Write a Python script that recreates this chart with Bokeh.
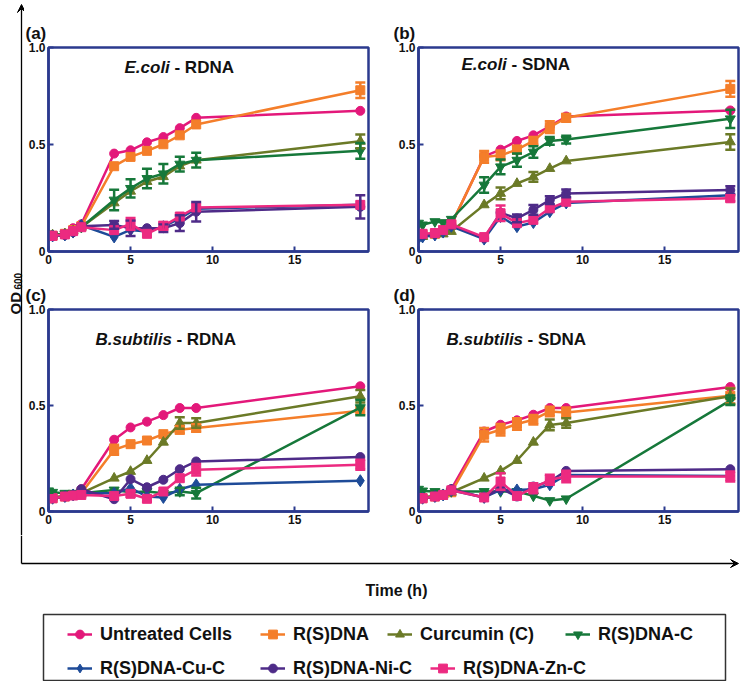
import math
from bokeh.plotting import figure
from bokeh.layouts import column, row
from bokeh.models import (Range1d, FixedTicker, ColumnDataSource, Whisker, TeeHead,
                          Arrow, VeeHead, Legend, LegendItem)
from bokeh.embed import file_html
from bokeh.resources import INLINE
from bokeh.core.properties import value

# ---------------- data ----------------
TIME_H = [0, 0.25, 1, 1.5, 2, 4, 5, 6, 7, 8, 9, 19]
SERIES = ["Untreated Cells", "R(S)DNA", "Curcumin (C)", "R(S)DNA-C",
          "R(S)DNA-Cu-C", "R(S)DNA-Ni-C", "R(S)DNA-Zn-C"]
X_TICKS = [0, 5, 10, 15]
Y_TICKS = [-0.05, 0.5, 1.0]
Y_TICK_LABELS = ["0", "0.5", "1.0"]
PANEL_LABELS = ["(a)", "(b)", "(c)", "(d)"]
ORGANISMS = ["E.coli", "E.coli", "B.subtilis", "B.subtilis"]
DNA_TYPES = ["RDNA", "SDNA", "RDNA", "SDNA"]
X_LABEL = "Time (h)"

OD_A = {
    "Untreated Cells": [0.031, 0.031, 0.041, 0.07, 0.09, 0.454, 0.471, 0.512, 0.539, 0.585, 0.638, 0.674],
    "R(S)DNA":         [0.031, 0.031, 0.041, 0.06, 0.08, 0.389, 0.437, 0.468, 0.502, 0.548, 0.604, 0.78],
    "Curcumin (C)":    [0.035, 0.035, 0.041, 0.055, 0.075, 0.20, 0.26, 0.31, 0.335, 0.39, 0.42, 0.517],
    "R(S)DNA-C":       [0.04, 0.035, 0.04, 0.05, 0.075, 0.215, 0.275, 0.326, 0.35, 0.40, 0.42, 0.468],
    "R(S)DNA-Cu-C":    [0.03, 0.03, 0.035, 0.05, 0.085, 0.025, 0.061, 0.053, 0.078, 0.12, 0.17, 0.19],
    "R(S)DNA-Ni-C":    [0.03, 0.03, 0.035, 0.05, 0.08, 0.087, 0.07, 0.07, 0.07, 0.096, 0.155, 0.18],
    "R(S)DNA-Zn-C":    [0.031, 0.031, 0.038, 0.055, 0.075, 0.06, 0.092, 0.041, 0.082, 0.13, 0.177, 0.19],
}
ERR_A = {
    "R(S)DNA":      [0, 0, 0, 0, 0, 0, 0, 0, 0, 0, 0, 0.04],
    "Curcumin (C)": [0, 0, 0, 0, 0, 0, 0, 0, 0, 0, 0, 0.035],
    "R(S)DNA-C":    [0, 0, 0, 0, 0, 0.053, 0.047, 0.05, 0.05, 0.038, 0.038, 0.04],
    "R(S)DNA-Ni-C": [0, 0, 0, 0, 0, 0.02, 0.04, 0, 0.02, 0.04, 0.05, 0.06],
    "R(S)DNA-Zn-C": [0, 0, 0, 0, 0, 0, 0.03, 0, 0.02, 0, 0, 0],
}

OD_B = {
    "Untreated Cells": [0.036, 0.036, 0.041, 0.06, 0.087, 0.44, 0.474, 0.519, 0.548, 0.594, 0.645, 0.676],
    "R(S)DNA":         [0.036, 0.036, 0.041, 0.06, 0.09, 0.437, 0.445, 0.474, 0.519, 0.59, 0.638, 0.787],
    "Curcumin (C)":    [0.027, 0.027, 0.036, 0.04, 0.053, 0.19, 0.249, 0.30, 0.334, 0.377, 0.416, 0.514],
    "R(S)DNA-C":       [0.096, 0.087, 0.104, 0.099, 0.116, 0.292, 0.386, 0.42, 0.462, 0.519, 0.526, 0.633],
    "R(S)DNA-Cu-C":    [0.019, 0.025, 0.035, 0.05, 0.08, 0.014, 0.13, 0.078, 0.099, 0.155, 0.20, 0.24],
    "R(S)DNA-Ni-C":    [0.036, 0.036, 0.041, 0.06, 0.087, 0.019, 0.15, 0.12, 0.164, 0.215, 0.249, 0.266],
    "R(S)DNA-Zn-C":    [0.041, 0.041, 0.045, 0.06, 0.09, 0.024, 0.147, 0.096, 0.113, 0.172, 0.206, 0.224],
}
ERR_B = {
    "R(S)DNA":      [0, 0, 0, 0, 0, 0.03, 0.025, 0.02, 0.02, 0.03, 0.02, 0.04],
    "Curcumin (C)": [0, 0, 0, 0, 0, 0, 0.03, 0, 0.025, 0, 0, 0.04],
    "R(S)DNA-C":    [0, 0, 0, 0, 0, 0.04, 0.038, 0.034, 0.03, 0.02, 0.02, 0.047],
    "R(S)DNA-Ni-C": [0, 0, 0, 0, 0, 0, 0, 0.02, 0.025, 0.02, 0.02, 0.02],
    "R(S)DNA-Zn-C": [0, 0, 0, 0, 0, 0, 0.04, 0, 0, 0, 0, 0.015],
}

OD_C = {
    "Untreated Cells": [0.019, 0.019, 0.028, 0.036, 0.066, 0.323, 0.387, 0.417, 0.451, 0.488, 0.488, 0.601],
    "R(S)DNA":         [0.019, 0.019, 0.028, 0.036, 0.045, 0.271, 0.30, 0.319, 0.352, 0.375, 0.384, 0.474],
    "Curcumin (C)":    [0.025, 0.025, 0.03, 0.036, 0.045, 0.123, 0.158, 0.215, 0.31, 0.41, 0.41, 0.549],
    "R(S)DNA-C":       [0.057, 0.05, 0.045, 0.045, 0.045, 0.062, 0.05, 0.054, 0.045, 0.054, 0.045, 0.49],
    "R(S)DNA-Cu-C":    [0.019, 0.019, 0.028, 0.036, 0.045, 0.045, 0.071, 0.028, 0.023, 0.066, 0.089, 0.11],
    "R(S)DNA-Ni-C":    [0.019, 0.019, 0.028, 0.036, 0.066, 0.014, 0.118, 0.076, 0.115, 0.17, 0.21, 0.233],
    "R(S)DNA-Zn-C":    [0.019, 0.019, 0.028, 0.033, 0.036, 0.031, 0.042, 0.016, 0.054, 0.123, 0.167, 0.193],
}
ERR_C = {
    "R(S)DNA":      [0, 0, 0, 0, 0, 0.026, 0, 0, 0, 0.02, 0.02, 0],
    "Curcumin (C)": [0, 0, 0, 0, 0, 0, 0, 0, 0, 0.03, 0.025, 0.033],
    "R(S)DNA-C":    [0.01, 0, 0, 0, 0, 0, 0, 0, 0, 0.02, 0.028, 0.04],
    "R(S)DNA-Zn-C": [0.015, 0, 0, 0, 0, 0, 0.015, 0.015, 0, 0, 0.03, 0.026],
}

OD_D = {
    "Untreated Cells": [0.019, 0.019, 0.028, 0.036, 0.066, 0.366, 0.401, 0.424, 0.453, 0.488, 0.488, 0.597],
    "R(S)DNA":         [0.019, 0.019, 0.028, 0.036, 0.05, 0.349, 0.375, 0.405, 0.427, 0.47, 0.465, 0.552],
    "Curcumin (C)":    [0.025, 0.025, 0.03, 0.036, 0.05, 0.123, 0.161, 0.215, 0.31, 0.40, 0.41, 0.549],
    "R(S)DNA-C":       [0.066, 0.057, 0.054, 0.045, 0.054, 0.054, 0.054, 0.054, 0.031, 0.007, 0.016, 0.528],
    "R(S)DNA-Cu-C":    [0.019, 0.019, 0.028, 0.036, 0.06, 0.023, 0.062, 0.062, 0.066, 0.089, 0.14, 0.135],
    "R(S)DNA-Ni-C":    [0.019, 0.019, 0.028, 0.036, 0.066, 0.023, 0.071, 0.028, 0.08, 0.106, 0.161, 0.17],
    "R(S)DNA-Zn-C":    [0.019, 0.019, 0.028, 0.036, 0.06, 0.023, 0.106, 0.031, 0.071, 0.115, 0.132, 0.132],
}
ERR_D = {
    "R(S)DNA":      [0, 0, 0, 0, 0, 0.035, 0.03, 0.03, 0.025, 0.025, 0.025, 0.04],
    "Curcumin (C)": [0, 0, 0, 0, 0, 0, 0, 0, 0, 0.028, 0.025, 0.04],
    "R(S)DNA-C":    [0, 0, 0, 0, 0, 0, 0, 0, 0, 0, 0, 0.025],
    "R(S)DNA-Zn-C": [0.02, 0, 0, 0, 0, 0, 0.043, 0, 0.026, 0.026, 0.03, 0.026],
}

# ---------------- styles ----------------
FONT = "Liberation Sans"
NAVY = "#2B3A8E"
INK = "#111111"
COLORS = {
    "Untreated Cells": "#E3187A",
    "R(S)DNA": "#F47E2A",
    "Curcumin (C)": "#6B7A27",
    "R(S)DNA-C": "#16783A",
    "R(S)DNA-Cu-C": "#1E4B98",
    "R(S)DNA-Ni-C": "#4E2B88",
    "R(S)DNA-Zn-C": "#EC2A80",
}
MARKERS = {
    "Untreated Cells": ("circle", 9),
    "R(S)DNA": ("square", 9),
    "Curcumin (C)": ("triangle", 10),
    "R(S)DNA-C": ("inverted_triangle", 10),
    "R(S)DNA-Cu-C": ("diamond", 12),
    "R(S)DNA-Ni-C": ("circle", 9),
    "R(S)DNA-Zn-C": ("square", 9),
}


def make_panel(i, od, err, width, height, bl, br, bt, bb, title_offset, lab_x, lab_y, lab_off):
    p = figure(width=width, height=height, x_range=Range1d(0, 19.5), y_range=Range1d(-0.05, 1.0),
               output_backend="svg", toolbar_location=None, title=PANEL_LABELS[i],
               min_border_left=bl, min_border_right=br, min_border_top=bt, min_border_bottom=bb)
    p.title.text_font = FONT
    p.title.text_font_size = "17px"
    p.title.text_font_style = "bold"
    p.title.text_color = INK
    p.title.align = "left"
    p.title.offset = title_offset
    p.title.standoff = 9
    p.grid.visible = False
    p.outline_line_color = NAVY
    p.outline_line_width = 2.5
    p.outline_line_alpha = 1
    p.xaxis.ticker = FixedTicker(ticks=X_TICKS)
    p.yaxis.ticker = FixedTicker(ticks=Y_TICKS)
    p.yaxis.major_label_overrides = dict(zip(Y_TICKS, Y_TICK_LABELS))
    for ax in (p.xaxis[0], p.yaxis[0]):
        ax.axis_line_color = NAVY
        ax.axis_line_width = 2.5
        ax.major_tick_line_color = NAVY
        ax.major_tick_line_width = 2
        ax.major_tick_in = 5
        ax.major_tick_out = 0
        ax.minor_tick_line_color = None
        ax.major_label_text_font = FONT
        ax.major_label_text_font_style = "bold"
        ax.major_label_text_font_size = "12px"
        ax.major_label_text_color = INK
        ax.major_label_standoff = 3

    for s in SERIES:
        c = COLORS[s]
        m, sz = MARKERS[s]
        src = ColumnDataSource(dict(t=TIME_H, od=od[s]))
        p.line("t", "od", source=src, line_color=c, line_width=2.5, line_join="round")
        if s in err:
            e = err[s]
            keep = [k for k, v in enumerate(e) if v > 0]
            wsrc = ColumnDataSource(dict(
                base=[TIME_H[k] for k in keep],
                upper=[od[s][k] + e[k] for k in keep],
                lower=[od[s][k] - e[k] for k in keep]))
            p.add_layout(Whisker(source=wsrc, base="base", upper="upper", lower="lower",
                                 line_color=c, line_width=2.5, level="glyph",
                                 upper_head=TeeHead(size=10, line_color=c, line_width=2.5),
                                 lower_head=TeeHead(size=10, line_color=c, line_width=2.5)))
        p.scatter("t", "od", source=src, marker=m, size=sz, fill_color=c, line_color=c)

    p.text(x=[lab_x], y=[lab_y], text=[ORGANISMS[i]], text_font=value(FONT),
           text_font_style="bold italic", text_font_size="17px",
           text_baseline="middle", text_align="left", text_color=INK)
    p.text(x=[lab_x], y=[lab_y], text=["- " + DNA_TYPES[i]], x_offset=lab_off, text_font=value(FONT),
           text_font_style="bold", text_font_size="17px",
           text_baseline="middle", text_align="left", text_color=INK)
    return p


fa = make_panel(0, OD_A, ERR_A, 359, 276, 24, 15, 47, 25, -23, 4.63, 0.897, 50)
fb = make_panel(1, OD_B, ERR_B, 359, 276, 35, 4, 47, 25, -25, 2.62, 0.912, 50)
fc = make_panel(2, OD_C, ERR_C, 359, 259, 24, 15, 33, 24, -23, 2.86, 0.844, 81)
fd = make_panel(3, OD_D, ERR_D, 359, 259, 35, 4, 33, 24, -25, 1.71, 0.844, 81)


def deco_fig(w, h):
    f = figure(width=w, height=h, x_range=Range1d(0, w), y_range=Range1d(0, h),
               x_axis_type=None, y_axis_type=None, min_border=0,
               toolbar_location=None, output_backend="svg")
    f.grid.visible = False
    f.outline_line_color = None
    return f


# left strip: vertical arrow + OD600
left = deco_fig(24, 535)
left.add_layout(Arrow(x_start=21, y_start=0, x_end=21, y_end=531, line_width=1.3, line_color="black",
                      end=VeeHead(size=8, fill_color="black", line_color="black")))
left.text(x=[15], y=[221], text=["OD"], angle=math.pi / 2, text_font=value(FONT),
          text_font_style="bold", text_font_size="15px", text_align="left",
          text_baseline="alphabetic", text_color=INK)
left.text(x=[17.5], y=[246], text=["600"], angle=math.pi / 2, text_font=value(FONT),
          text_font_style="bold", text_font_size="10px", text_align="left",
          text_baseline="alphabetic", text_color=INK)

# bottom: horizontal arrow, x label and legend box
bottom = deco_fig(742, 146)
bottom.segment(x0=[21], y0=[146], x1=[21], y1=[118], line_width=1.3, line_color="black")
bottom.add_layout(Arrow(x_start=21, y_start=118, x_end=738, y_end=118, line_width=1.3, line_color="black",
                        end=VeeHead(size=8, fill_color="black", line_color="black")))
bottom.text(x=[396], y=[91], text=[X_LABEL], text_font=value(FONT), text_font_style="bold",
            text_font_size="16px", text_align="center", text_baseline="middle", text_color=INK)
bottom.quad(left=[43], right=[725], bottom=[1], top=[67], fill_color=None,
            line_color="#333333", line_width=1.5)

OFFSCREEN = [-500, -490]
LEG_POS = [(67, 634), (260, 634), (387, 634), (565, 634), (67, 668), (260, 668), (430, 668)]
for s, (gx, cy) in zip(SERIES, LEG_POS):
    c = COLORS[s]
    m, sz = MARKERS[s]
    lr = bottom.line(OFFSCREEN, OFFSCREEN, line_color=c, line_width=2.5)
    sr = bottom.scatter(OFFSCREEN[:1], OFFSCREEN[:1], marker=m, size=sz, fill_color=c, line_color=c)
    leg = Legend(items=[LegendItem(label=s, renderers=[lr, sr])],
                 location=(gx, 681 - (cy + 11)), orientation="horizontal",
                 padding=0, margin=0, spacing=0, border_line_color=None,
                 background_fill_alpha=0, glyph_width=25, glyph_height=22, label_height=22,
                 label_standoff=8, label_text_font=FONT, label_text_font_style="bold",
                 label_text_font_size="18px", label_text_baseline="middle",
                 label_text_color=INK)
    bottom.add_layout(leg)

page = column(row(left, column(row(fa, fb), row(fc, fd))), bottom)

open("out.html", "w").write(file_html(page, INLINE))
